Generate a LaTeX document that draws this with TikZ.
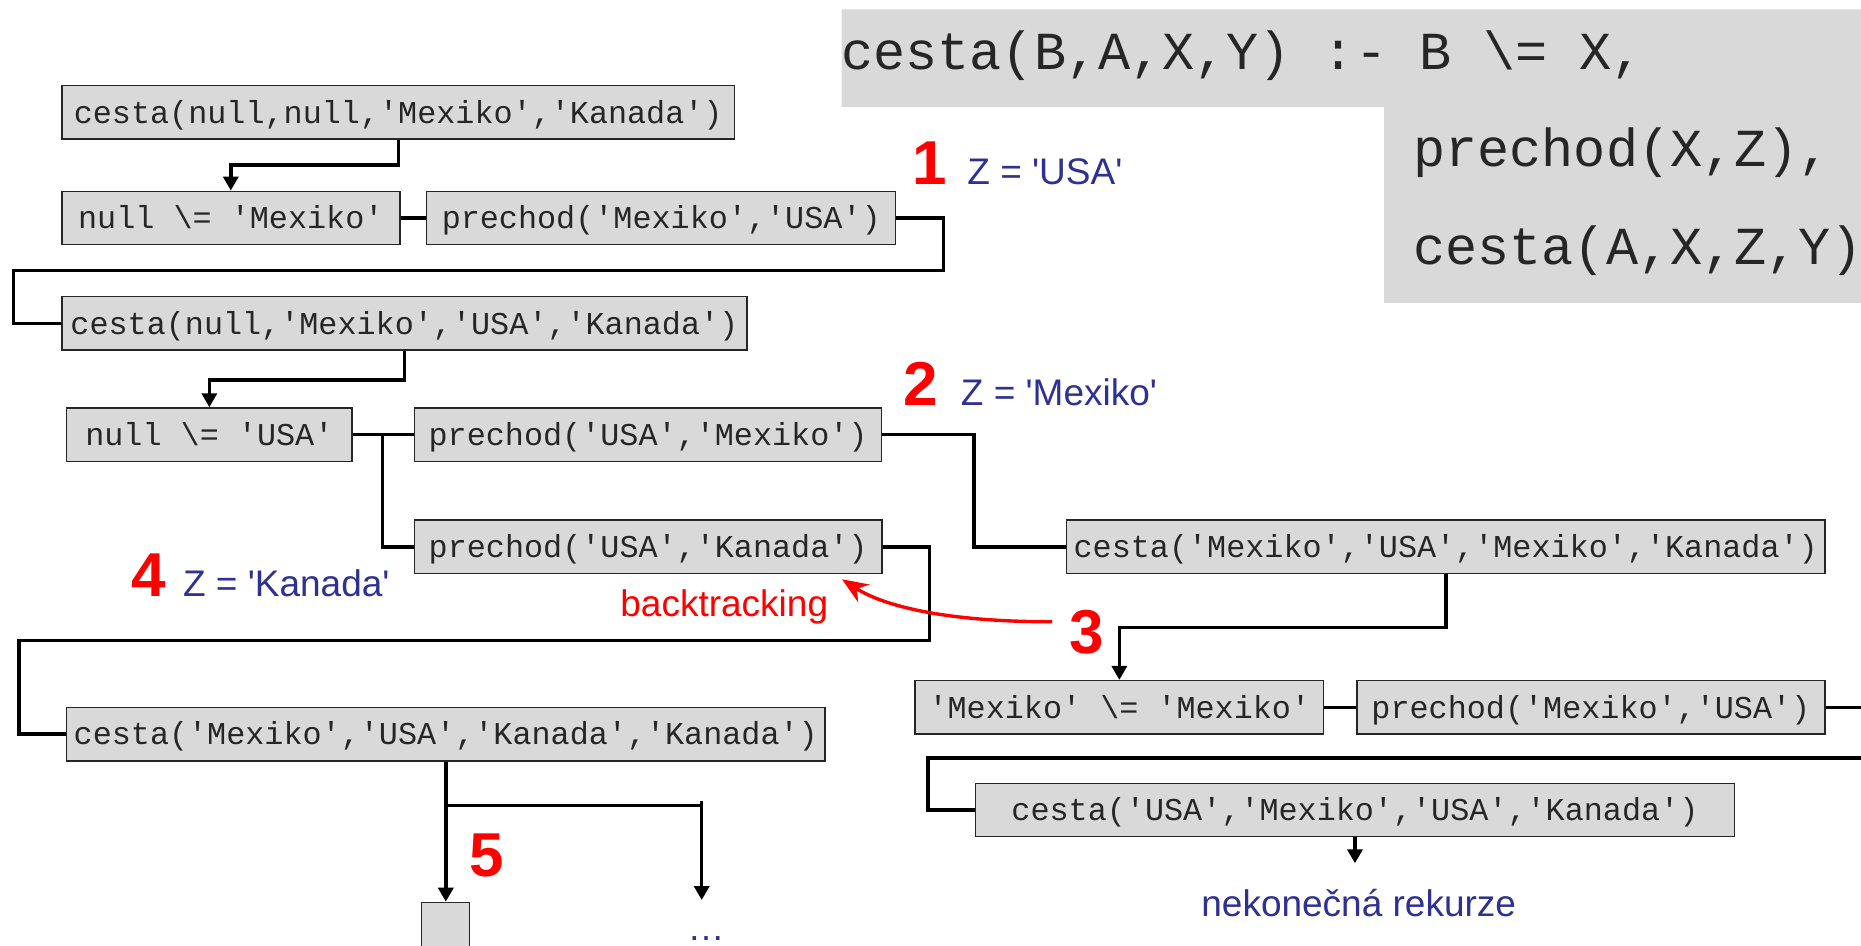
\documentclass[tikz,border=0pt]{standalone}
\usepackage{fontspec}
\setmainfont{Liberation Sans}
\newfontfamily\codefont[Ligatures=TeXOff]{Liberation Mono}
\newfontfamily\labfont[Ligatures=TeXOff]{Liberation Sans}
\usetikzlibrary{arrows.meta}
\definecolor{boxgray}{HTML}{D9D9D9}
\definecolor{ink}{HTML}{262626}
\definecolor{labblue}{HTML}{2E3192}
\definecolor{stepred}{HTML}{FF0000}
\newcommand{\bs}{\textbackslash}
\tikzset{
  goal/.style={draw=ink, line width=0.7pt, fill=boxgray, text=ink,
    font=\codefont\fontsize{15.9pt}{16pt}\selectfont,
    minimum height=26.75pt, inner sep=0pt, text height=10.75pt, text depth=0pt},
  conn/.style={line width=1.75pt, black},
  arr/.style={-{Triangle[length=7pt,width=7.5pt]}},
  stepno/.style={text=stepred, font=\labfont\bfseries\fontsize{31pt}{31pt}\selectfont,
    inner sep=0pt, anchor=base},
  bind/.style={text=labblue, font=\labfont\fontsize{18.5pt}{19pt}\selectfont,
    inner sep=0pt, anchor=base west},
  code/.style={text=ink, font=\codefont\fontsize{26.75pt}{27pt}\selectfont,
    inner sep=0pt, anchor=base west}
}
\begin{document}
\begin{tikzpicture}[x=0.5pt,y=-0.5pt]
\useasboundingbox (0,0) rectangle (1861,946);
\clip (0,0) rectangle (1861,946);

% rule shown in the upper right corner
\fill[boxgray] (841.5,9.5) -- (1870,9.5) -- (1870,303) -- (1384,303)
  -- (1384,107) -- (841.5,107) -- cycle;
\node[code] (r1) at (841,70) {cesta(B,A,X,Y) :- B \bs= X,};
\node[code] (r2) at (1413,166.7) {prechod(X,Z),};
\node[code] (r3) at (1413,265) {cesta(A,X,Z,Y)};

% goals of the derivation
\node[goal, minimum width=336.45pt] (b1) at (398.25,112.35) {cesta(null,null,'Mexiko','Kanada')};
\node[goal, minimum width=169pt] (b2) at (230.8,218) {null \bs= 'Mexiko'};
\node[goal, minimum width=234.5pt] (b3) at (661.2,218) {prechod('Mexiko','USA')};
\node[goal, minimum width=342.6pt] (b4) at (404.4,323.35) {cesta(null,'Mexiko','USA','Kanada')};
\node[goal, minimum width=142.65pt] (b5) at (209.35,434.7) {null \bs= 'USA'};
\node[goal, minimum width=233.6pt] (b6) at (648.1,434.7) {prechod('USA','Mexiko')};
\node[goal, minimum width=233.65pt] (b7) at (648.15,546.85) {prechod('USA','Kanada')};
\node[goal, minimum width=379.1pt] (b8) at (445.8,734.15) {cesta('Mexiko','USA','Kanada','Kanada')};
\node[goal, minimum width=23.8pt, minimum height=60pt, anchor=north] (b9) at (445.5,901.7) {};
\node[goal, minimum width=379.25pt] (b10) at (1445.75,546.85) {cesta('Mexiko','USA','Mexiko','Kanada')};
\node[goal, minimum width=204.35pt] (b11) at (1119.35,707.35) {'Mexiko' \bs= 'Mexiko'};
\node[goal, minimum width=234.1pt] (b12) at (1590.9,707.35) {prechod('Mexiko','USA')};
\node[goal, minimum width=379.25pt] (b13) at (1354.95,810) {cesta('USA','Mexiko','USA','Kanada')};

% bend points of the connectors
\coordinate (k3a) at (943.6,270.7);
\coordinate (k3b) at (13.5,270.7);
\coordinate (j5) at (382.7,434.7);
\coordinate (k6) at (974,546.85);
\coordinate (k7a) at (929.6,640.3);
\coordinate (k7b) at (19,640.3);
\coordinate (j8) at (445.8,805.7);
\coordinate (d8) at (701.7,800.7);
\coordinate (e8) at (701.7,900);
\coordinate (o12) at (1870,707.35);
\coordinate (o13a) at (1870,758);
\coordinate (o13b) at (928.2,758);
\coordinate (z13) at (1354.95,863.3);

% connectors
\draw[conn,arr] (b1.south) -- ++(0,25.3) -| (b2.north);
\draw[conn] (b2.east) -- (b3.west);
\draw[conn] (b3.east) -| (k3a) -- (k3b) |- (b4.west);
\draw[conn,arr] (b4.south) -- ++(0,29) -| (b5.north);
\draw[conn] (b5.east) -- (b6.west);
\draw[conn] (j5) |- (b7.west);
\draw[conn] (b6.east) -| (k6) -- (b10.west);
\draw[conn] (b7.east) -| (k7a) -- (k7b) |- (b8.west);
\draw[conn,arr] (b8.south) -- (b8.south |- b9.north);
\draw[conn] (j8) -| (d8);
\draw[conn,arr] (d8) -- (e8);
\draw[conn,arr] (b10.south) -- ++(0,53) -| (b11.north);
\draw[conn] (b11.east) -- (b12.west);
\draw[conn] (b12.east) -- (o12);
\draw[conn] (o13a) -- (o13b) |- (b13.west);
\draw[conn,arr] (b13.south) -- (z13);

% step numbers and bindings
\node[stepno] (n1) at (930,185) {1};
\node[bind] (z1) at (967,185) {Z = 'USA'};
\node[stepno] (n2) at (921,405) {2};
\node[bind] (z2) at (960.5,405) {Z = 'Mexiko'};
\node[stepno] (n3) at (1086.5,653.3) {3};
\node[stepno] (n4) at (148.5,596) {4};
\node[bind] (z4) at (182.7,596) {Z = 'Kanada'};
\node[stepno] (n5) at (487.2,876.7) {5};
\node[bind, text=stepred] (bt) at (620,616.7) {backtracking};
\node[bind, anchor=base] (more) at (706,940) {\dots};
\node[bind, anchor=base] (inf) at (1358.7,916.7) {nekonečná rekurze};

% backtracking arrow
\coordinate (s3) at (1052,621.7);
\coordinate (t3) at (842,579.3);
\draw[stepred, line width=1.7pt, -{Stealth[length=13pt,width=10.5pt]}]
  (s3) .. controls (950,622) and (885,607) .. (t3);
\end{tikzpicture}
\end{document}
